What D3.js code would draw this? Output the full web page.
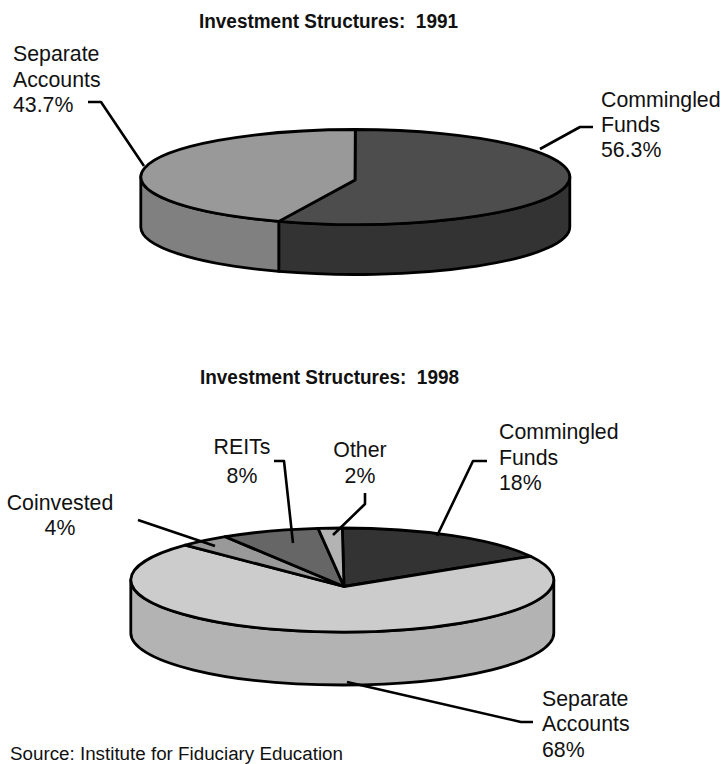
<!DOCTYPE html>
<html>
<head>
<meta charset="utf-8">
<script src="https://cdn.jsdelivr.net/npm/d3@7"></script>
<style>
html,body{margin:0;padding:0;background:#fff;overflow:hidden}
svg{display:block}
text{font-family:"Liberation Sans",Arial,sans-serif;fill:#111}
</style>
</head>
<body>
<svg id="c" width="722" height="764"></svg>
<script>
// ---- data ----
const categories1991 = ["Commingled Funds", "Separate Accounts"];
const values1991 = [56.3, 43.7];
const categories1998 = ["Commingled Funds", "Separate Accounts", "Coinvested", "REITs", "Other"];
const values1998 = [18, 68, 4, 8, 2];
const title1991 = "Investment Structures:  1991";
const title1998 = "Investment Structures:  1998";
const sourceNote = "Source: Institute for Fiduciary Education";

// ---- styles ----
const topColors1991 = ["#4d4d4d", "#999999"];
const sideColors1991 = ["#333333", "#808080"];
const topColors1998 = ["#333333", "#cccccc", "#999999", "#666666", "#b3b3b3"];
const sideColors1998 = ["#262626", "#b3b3b3", "#808080", "#4d4d4d", "#999999"];

// ---- layout ----
const pieLayout1991 = {cx:355.3, cy:177, rx:214.5, ry:47.5, depth:50, apexX:355, apexY:180};
const pieLayout1998 = {cx:342.3, cy:580, rx:211.5, ry:52, depth:53, apexX:344, apexY:586.5};
const annotations = [
  {lines:["Separate","Accounts","43.7%"], x:13, ys:[61,87,112], anchor:"start", leader:[[88,102],[101,102],[144,166]]},
  {lines:["Commingled","Funds","56.3%"], x:601, ys:[107,132,157], anchor:"start", leader:[[540,149],[580,127],[593,127]]},
  {lines:["Commingled","Funds","18%"], x:499, ys:[439,465,490], anchor:"start", leader:[[487,461],[473,461],[437,536]]},
  {lines:["REITs","8%"], x:242, ys:[454,483], anchor:"middle", leader:[[274,461],[284,461],[293,543]]},
  {lines:["Other","2%"], x:360, ys:[457,483], anchor:"middle", leader:[[365,493],[365,504],[333,535]]},
  {lines:["Coinvested","4%"], x:60, ys:[510,535], anchor:"middle", leader:[[138,520],[215,546]]},
  {lines:["Separate","Accounts","68%"], x:542, ys:[706,731,757], anchor:"start", leader:[[347,682],[521,722],[533,722]]}
];

const svg = d3.select("#c");
const TAU = Math.PI * 2;
// foreshortening of the tilted disc: rim angles shift slightly from the flat pie angles
const project = a => a - 0.0436 * Math.sin(2 * a);

function drawPie(values, topColors, sideColors, L) {
  const slices = d3.pie().sort(null).startAngle(0).endAngle(TAU)(values);
  const px = a => L.cx + L.rx * Math.sin(a);
  const py = a => L.cy - L.ry * Math.cos(a);
  const g = svg.append("g").attr("stroke", "#000").attr("stroke-width", 2.8).attr("stroke-linejoin", "round");

  // rim
  slices.forEach((s, i) => {
    const a0 = Math.max(project(s.startAngle), Math.PI / 2);
    const a1 = Math.min(project(s.endAngle), Math.PI * 1.5);
    if (a1 <= a0) return;
    const large = a1 - a0 > Math.PI ? 1 : 0;
    g.append("path").attr("fill", sideColors[i]).attr("d",
      `M${px(a0)},${py(a0)}A${L.rx},${L.ry} 0 ${large} 1 ${px(a1)},${py(a1)}` +
      `L${px(a1)},${py(a1) + L.depth}A${L.rx},${L.ry} 0 ${large} 0 ${px(a0)},${py(a0) + L.depth}Z`);
  });
  // top
  slices.forEach((s, i) => {
    const a0 = project(s.startAngle), a1 = project(s.endAngle);
    const large = a1 - a0 > Math.PI ? 1 : 0;
    g.append("path").attr("fill", topColors[i]).attr("d",
      `M${L.apexX},${L.apexY}L${px(a0)},${py(a0)}A${L.rx},${L.ry} 0 ${large} 1 ${px(a1)},${py(a1)}Z`);
  });
}

drawPie(values1991, topColors1991, sideColors1991, pieLayout1991);
drawPie(values1998, topColors1998, sideColors1998, pieLayout1998);

// titles
[[title1991, 199, 28], [title1998, 200, 384]].forEach(([t, x, y]) => {
  svg.append("text").attr("x", x).attr("y", y).attr("xml:space", "preserve").style("white-space", "pre")
    .attr("font-size", 20).attr("font-weight", "bold")
    .attr("textLength", 259).attr("lengthAdjust", "spacingAndGlyphs").text(t);
});

// leaders and labels
const leaderLine = d3.line();
annotations.forEach(a => {
  svg.append("path").attr("d", leaderLine(a.leader)).attr("fill", "none")
    .attr("stroke", "#000").attr("stroke-width", 2.6).attr("stroke-linejoin", "round");
  a.lines.forEach((t, i) => {
    svg.append("text").attr("x", a.x).attr("y", a.ys[i]).attr("text-anchor", a.anchor)
      .attr("font-size", 21.3).text(t);
  });
});

svg.append("text").attr("x", 10).attr("y", 760).attr("font-size", 18)
  .attr("textLength", 333).attr("lengthAdjust", "spacingAndGlyphs").text(sourceNote);
</script>
</body>
</html>
